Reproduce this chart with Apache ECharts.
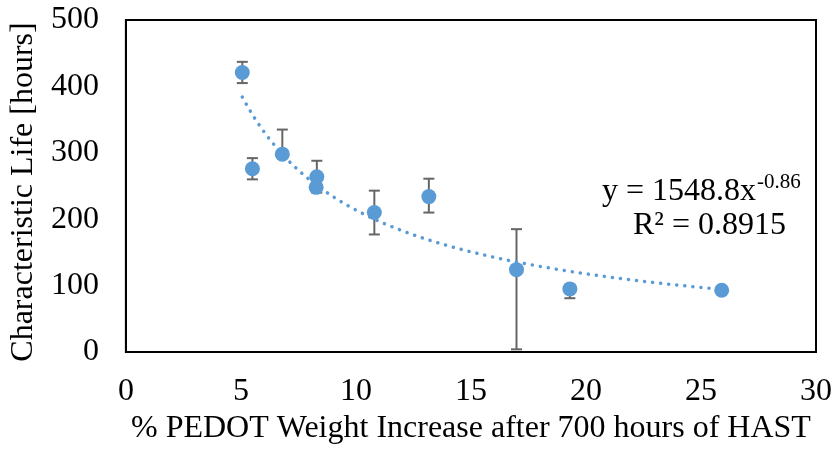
<!DOCTYPE html>
<html>
<head>
<meta charset="utf-8">
<script src="https://cdn.jsdelivr.net/npm/echarts@6/dist/echarts.min.js"></script>
<style>
  html, body { margin: 0; padding: 0; background: #fff; }
  #chart { width: 835px; height: 453px; }
</style>
</head>
<body>
<div id="chart"></div>
<script>
// Measured samples: PEDOT weight gain (%) vs characteristic life (hours)
const weightIncrease = [5.06, 5.5, 6.8, 8.3, 8.27, 10.8, 13.17, 16.98, 19.3, 25.9];
const characteristicLife = [421, 276, 298, 264, 248, 210, 234, 124, 95, 93];
const errorPlus  = [16, 16, 37, 24, 0, 33, 27, 61, 0, 0];
const errorMinus = [16, 16, 0, 24, 0, 33, 24, 120, 14, 0];

// Power-law fit y = A * x^B, as given in the label
const fitA = 1548.8;
const fitB = -0.86;
const fitR2 = '0.8915';
const fitXStart = 5.06;
const fitXEnd = 25.9;
const fitSteps = 80;

const xTicks = [0, 5, 10, 15, 20, 25, 30];
const yTicks = [0, 100, 200, 300, 400, 500];

const points = weightIncrease.map((x, i) => [x, characteristicLife[i]]);
const errorData = weightIncrease.map((x, i) => [x, characteristicLife[i] - errorMinus[i], characteristicLife[i] + errorPlus[i]]);
const fitLine = [];
for (let k = 0; k <= fitSteps; k++) {
  const x = fitXStart + (fitXEnd - fitXStart) * k / fitSteps;
  fitLine.push([x, fitA * Math.pow(x, fitB)]);
}

const FONT = '"Liberation Serif", "Times New Roman", serif';
const FS = 32;
const chart = echarts.init(document.getElementById('chart'), null, { renderer: 'canvas' });

chart.setOption({
  animation: false,
  backgroundColor: '#fff',
  grid: {
    left: 123, right: 19, top: 20, bottom: 101,
    show: true, borderColor: '#000', borderWidth: 2, backgroundColor: 'transparent'
  },
  xAxis: {
    type: 'value',
    min: xTicks[0], max: xTicks[xTicks.length - 1], interval: 5,
    name: '% PEDOT Weight Increase after 700 hours of HAST',
    nameLocation: 'middle', nameGap: 57,
    nameTextStyle: { fontFamily: FONT, fontSize: FS, color: '#000' },
    axisLine: { show: true, lineStyle: { color: '#000', width: 2 } },
    axisTick: { show: false },
    splitLine: { show: false },
    axisLabel: { fontFamily: FONT, fontSize: FS, color: '#000', margin: 24 }
  },
  yAxis: {
    type: 'value',
    min: yTicks[0], max: yTicks[yTicks.length - 1], interval: 100,
    name: 'Characteristic Life [hours]',
    nameLocation: 'middle', nameGap: 82,
    nameTextStyle: { fontFamily: FONT, fontSize: FS, color: '#000', padding: [0, 12, 0, 0] },
    axisLine: { show: true, lineStyle: { color: '#000', width: 2 } },
    axisTick: { show: false },
    splitLine: { show: false },
    axisLabel: { fontFamily: FONT, fontSize: FS, color: '#000', margin: 27 }
  },
  series: [
    {
      name: 'error',
      type: 'custom',
      z: 2,
      data: errorData,
      renderItem: function (params, api) {
        const x = api.value(0);
        const lo = api.value(1);
        const hi = api.value(2);
        if (hi - lo <= 0) return null;
        const pLo = api.coord([x, lo]);
        const pHi = api.coord([x, hi]);
        const capHalf = 5.5;
        const style = { stroke: '#666', lineWidth: 2, fill: null };
        return {
          type: 'group',
          children: [
            { type: 'line', shape: { x1: pLo[0], y1: pLo[1], x2: pHi[0], y2: pHi[1] }, style: style },
            { type: 'line', shape: { x1: pHi[0] - capHalf, y1: pHi[1], x2: pHi[0] + capHalf, y2: pHi[1] }, style: style },
            { type: 'line', shape: { x1: pLo[0] - capHalf, y1: pLo[1], x2: pLo[0] + capHalf, y2: pLo[1] }, style: style }
          ]
        };
      }
    },
    {
      name: 'Characteristic Life',
      type: 'scatter',
      z: 3,
      data: points,
      symbol: 'circle',
      symbolSize: 15,
      itemStyle: { color: '#5B9BD5', opacity: 1 }
    },
    {
      name: 'Power fit',
      type: 'line',
      z: 4,
      data: fitLine,
      showSymbol: false,
      smooth: false,
      lineStyle: { color: '#5B9BD5', width: 3.5, type: [0.1, 8], cap: 'round' }
    }
  ],
  graphic: [
    {
      type: 'text', left: 602, top: 176, z: 10,
      style: { text: 'y = ' + fitA + 'x', font: FS + 'px ' + FONT, fill: '#000' }
    },
    {
      type: 'text', left: 757, top: 172, z: 10,
      style: { text: String(fitB), font: '21px ' + FONT, fill: '#000' }
    },
    {
      type: 'text', left: 633, top: 210, z: 10,
      style: { text: 'R² = ' + fitR2, font: FS + 'px ' + FONT, fill: '#000' }
    }
  ]
});
</script>
</body>
</html>
